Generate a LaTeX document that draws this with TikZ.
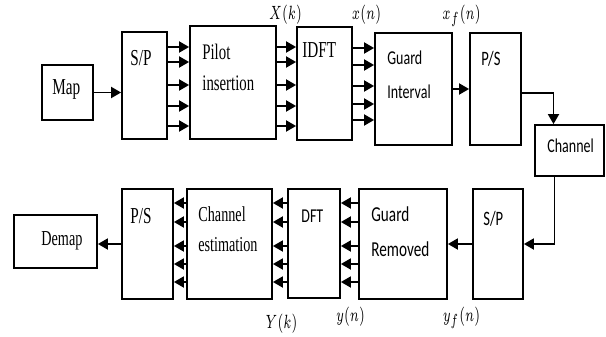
\documentclass[tikz,border=0pt]{standalone}
\usepackage{fontspec}
\usepackage{graphicx}
\usepackage{tikz}
\usetikzlibrary{arrows.meta, positioning, calc}
\newfontfamily\serf{Liberation Serif}
\newfontfamily\sanf{Carlito}
\newcommand{\sertxt}[2][7.4]{\scalebox{1}[1.5]{\serf\fontsize{#1}{10.3}\selectfont\begin{tabular}[t]{@{}l@{}}#2\end{tabular}}}
\newcommand{\santxt}[2][7]{\scalebox{1}[1.4]{\sanf\fontsize{#1}{12.5}\selectfont\begin{tabular}[t]{@{}l@{}}#2\end{tabular}}}
\newcommand{\sgl}[1]{\scalebox{1}[1.6]{\fontsize{6}{7}\selectfont$#1$}}

\begin{document}
\begin{tikzpicture}[x=0.5pt, y=-0.5pt,
    blk/.style={draw, line width=0.9pt, inner sep=0pt},
    arr/.style={-{Triangle[length=5pt, width=5.5pt]}, line width=0.9pt},
    txt/.style={anchor=base west, inner sep=0pt},
    sig/.style={anchor=base, inner sep=0pt}]
    \useasboundingbox (0,0) rectangle (606,337);

    \node[blk, minimum width=25.5pt, minimum height=27.5pt] (map) at (67.5,92.5) {};
    \node[blk, minimum width=22.5pt, minimum height=53.5pt] (sp1) at (144.5,85.5) {};
    \node[blk, minimum width=43pt, minimum height=56.5pt] (pilot) at (233,82.5) {};
    \node[blk, minimum width=27.5pt, minimum height=56.5pt] (idft) at (324.5,83.5) {};
    \node[blk, minimum width=38.5pt, minimum height=56pt] (gi) at (413.5,89) {};
    \node[blk, minimum width=25.5pt, minimum height=56pt] (ps1) at (495.5,89) {};
    \node[blk, minimum width=34.5pt, minimum height=25.5pt] (chan) at (569.5,150.5) {};

    \node[blk, minimum width=41.5pt, minimum height=26.5pt] (demap) at (55.5,241.5) {};
    \node[blk, minimum width=25.5pt, minimum height=55pt] (ps2) at (147.5,244) {};
    \node[blk, minimum width=42.5pt, minimum height=55pt] (chest) at (229.5,244) {};
    \node[blk, minimum width=26pt, minimum height=54.5pt] (dft) at (314,243.5) {};
    \node[blk, minimum width=44pt, minimum height=55pt] (gr) at (403,244) {};
    \node[blk, minimum width=25pt, minimum height=55pt] (sp2) at (498,244) {};

    \node[txt] (maptxt) at (52,94) {\sertxt[7.6]{Map}};
    \node[txt] (sp1txt) at (130,65) {\sertxt[7.6]{S/P}};
    \node[txt] (pilottxt) at (202,60) {\sertxt{Pilot\\insertion}};
    \node[txt] (idfttxt) at (302,57) {\sertxt[7.6]{IDFT}};
    \node[txt] (gitxt) at (387,64) {\santxt{Guard\\Interval}};
    \node[txt] (ps1txt) at (481,65) {\santxt[7.3]{P/S}};
    \node[txt] (chantxt) at (547,152) {\santxt{Channel}};
    \node[txt] (demaptxt) at (41,245) {\sertxt[7.1]{Demap}};
    \node[txt] (ps2txt) at (130,223) {\sertxt[7.6]{P/S}};
    \node[txt] (chesttxt) at (198,221) {\sertxt[7.1]{Channel\\estimation}};
    \node[txt] (dfttxt) at (301,222) {\santxt{DFT}};
    \node[txt] (grtxt) at (371,221) {\santxt[7.6]{Guard\\Removed}};
    \node[txt] (sp2txt) at (483,225) {\santxt[7.3]{S/P}};

    \node[sig] (xk) at (285.5,19) {\sgl{X(k)}};
    \node[sig] (xn) at (366.5,19) {\sgl{x(n)}};
    \node[sig] (xfn) at (461.5,19) {\sgl{x_f(n)}};
    \node[sig] (yk) at (281.5,328) {\sgl{Y(k)}};
    \node[sig] (yn) at (350.5,321) {\sgl{y(n)}};
    \node[sig] (yfn) at (461.5,321) {\sgl{y_f(n)}};

    \draw[arr] (map.east) -- (sp1.west |- map.east);
    \foreach \y in {47,62,85,106,126} {
        \draw[arr] (sp1.east |- 0,\y) -- (pilot.west |- 0,\y);
        \draw[arr] (pilot.east |- 0,\y) -- (idft.west |- 0,\y);
    }
    \foreach \y in {48,65,86,104,120}
        \draw[arr] (idft.east |- 0,\y) -- (gi.west |- 0,\y);
    \draw[arr] (gi.east) -- (ps1.west |- gi.east);
    \draw[arr] ([yshift=-2pt]ps1.east) -| ([xshift=-8pt]chan.north);
    \draw[arr] ([xshift=-7.5pt]chan.south) |- (sp2.east);
    \draw[arr] (sp2.west) -- (gr.east |- sp2.west);
    \foreach \y in {203,222,246,264,282} {
        \draw[arr] (gr.west |- 0,\y) -- (dft.east |- 0,\y);
        \draw[arr] (dft.west |- 0,\y) -- (chest.east |- 0,\y);
        \draw[arr] (chest.west |- 0,\y) -- (ps2.east |- 0,\y);
    }
    \draw[arr] (ps2.west) -- (demap.east |- ps2.west);
\end{tikzpicture}
\end{document}
